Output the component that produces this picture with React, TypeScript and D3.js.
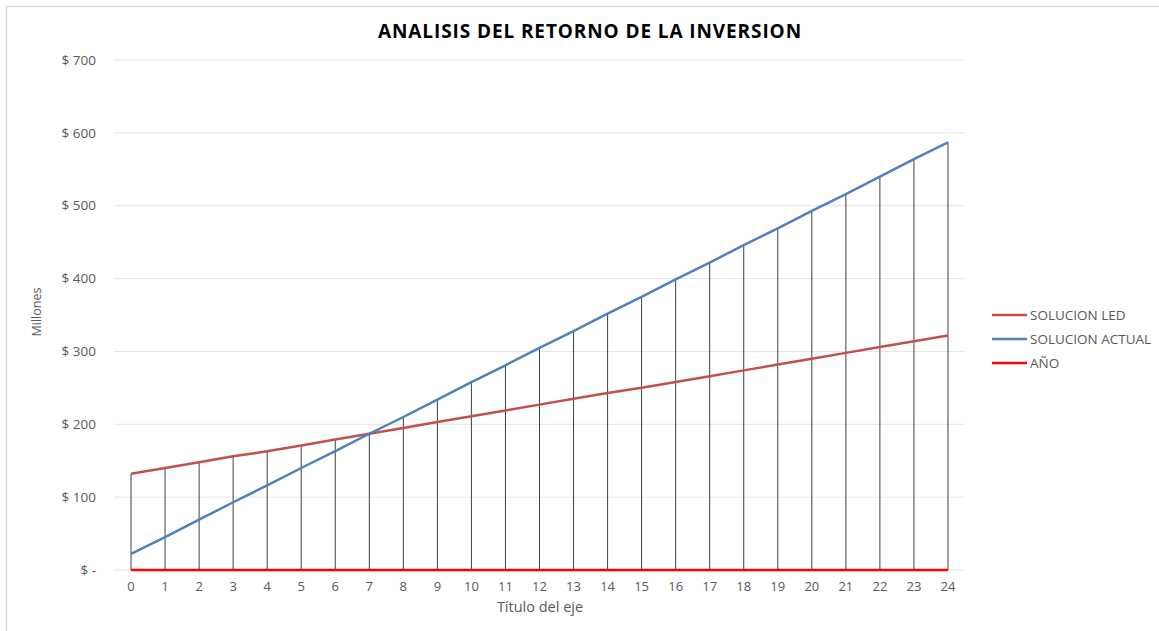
import React from 'react';
import * as d3 from 'd3';

const years = ['0','1','2','3','4','5','6','7','8','9','10','11','12','13','14','15','16','17','18','19','20','21','22','23','24'];
const solucionLed = [132, 140, 148, 156, 163, 171, 179, 187, 195, 203, 211, 219, 227, 235, 243, 250, 258, 266, 274, 282, 290, 298, 306, 314, 322];
const solucionActual = [22, 45, 69, 93, 116, 140, 163, 187, 210, 234, 258, 281, 305, 328, 352, 375, 399, 422, 446, 469, 493, 516, 540, 564, 587];
const anio = [0, 0, 0, 0, 0, 0, 0, 0, 0, 0, 0, 0, 0, 0, 0, 0, 0, 0, 0, 0, 0, 0, 0, 0, 0];
const yTicks = [0, 100, 200, 300, 400, 500, 600, 700];

const seriesList = [
    { name: 'SOLUCION LED', values: solucionLed, color: '#C0504D' },
    { name: 'SOLUCION ACTUAL', values: solucionActual, color: '#4F81BD' },
    { name: 'AÑO', values: anio, color: '#FF0000' }
];

const W = 1159;
const H = 631;
const font = '"Open Sans", "Liberation Sans", sans-serif';

const App = () => {
    const plot = { left: 114, right: 965, top: 60, bottom: 570 };

    const xScale = d3.scalePoint<string>()
        .domain(years)
        .range([plot.left, plot.right])
        .padding(0.5);
    const yScale = d3.scaleLinear()
        .domain([0, 700])
        .range([plot.bottom, plot.top]);

    const lineGen = (vals: number[]) => d3.line<number>()
        .x((_, i) => xScale(years[i]) as number)
        .y(d => yScale(d))(vals);

    const fmt = (v: number) => v === 0 ? '$ -' : `$ ${v}`;

    return (
        <svg width={W} height={H} style={{ position: 'absolute', left: 0, top: 0, background: '#fff' }}>
            <rect x={6.5} y={6.5} width={W} height={H} fill="#fff" stroke="#d9d9d9" strokeWidth={1.5} />
            <text x={590} y={38} textAnchor="middle" fontFamily={font} fontWeight="bold" fontSize={19} letterSpacing={0.9} fill="#000">
                ANALISIS DEL RETORNO DE LA INVERSION
            </text>

            {/* gridlines + y labels */}
            {yTicks.map(t => (
                <g key={t}>
                    <line x1={plot.left} x2={plot.right} y1={yScale(t)} y2={yScale(t)} stroke="#e6e6e6" strokeWidth={1} />
                    <text x={96} y={yScale(t)} dy="0.35em" textAnchor="end" fontFamily={font} fontSize={13.5} fill="#595959">
                        {fmt(t)}
                    </text>
                </g>
            ))}

            {/* drop lines */}
            {years.map((yr, i) => {
                const top = Math.max(...seriesList.map(s => s.values[i]));
                const lo = Math.min(...seriesList.map(s => s.values[i]));
                return (
                    <line key={'d' + yr} x1={xScale(yr)} x2={xScale(yr)} y1={yScale(top)} y2={yScale(lo)} stroke="#404040" strokeWidth={1} />
                );
            })}

            {seriesList.map(s => (
                <path key={s.name} d={lineGen(s.values) || ''} fill="none" stroke={s.color} strokeWidth={2.5} />
            ))}

            {/* x labels */}
            {years.map(yr => (
                <text key={'x' + yr} x={xScale(yr)} y={586} dy="0.35em" textAnchor="middle" fontFamily={font} fontSize={13} fill="#595959">
                    {yr}
                </text>
            ))}
            <text x={540} y={607} dy="0.35em" textAnchor="middle" fontFamily={font} fontSize={14.5} fill="#595959">Título del eje</text>
            <text transform="translate(37,312) rotate(-90)" dy="0.35em" textAnchor="middle" fontFamily={font} fontSize={12.5} fill="#595959">Millones</text>

            {/* legend */}
            {seriesList.map((s, i) => (
                <g key={'l' + s.name} transform={`translate(992,${315 + i * 24})`}>
                    <line x1={0} x2={35} y1={0} y2={0} stroke={s.color} strokeWidth={2.5} />
                    <text x={38} y={0} dy="0.35em" fontFamily={font} fontSize={13.5} fill="#595959">{s.name}</text>
                </g>
            ))}
        </svg>
    );
};

export default App;
